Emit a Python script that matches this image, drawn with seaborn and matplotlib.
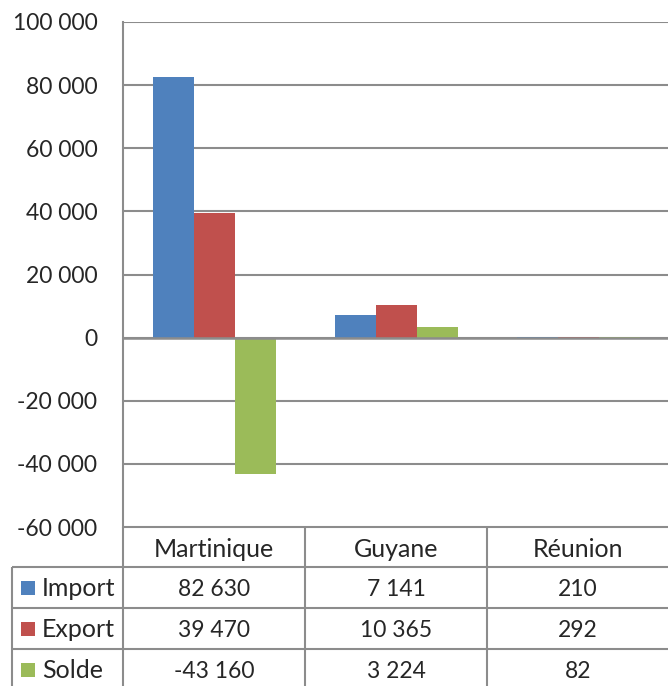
import pandas as pd
import matplotlib.pyplot as plt
import seaborn as sns
from matplotlib.lines import Line2D

# Data
regions = ["Martinique", "Guyane", "Réunion"]
series = ["Import", "Export", "Solde"]
import_vals = [82630, 7141, 210]
export_vals = [39470, 10365, 292]
solde_vals = [-43160, 3224, 82]
yticks = [-60000, -40000, -20000, 0, 20000, 40000, 60000, 80000, 100000]

colors = ["#4F81BD", "#C0504D", "#9BBB59"]
grid_col = "#8C8C8C"


def fmt(v):
    return f"{v:,}".replace(",", " ")


rows = []
for s, vals in zip(series, [import_vals, export_vals, solde_vals]):
    for r, v in zip(regions, vals):
        rows.append({"Region": r, "Serie": s, "Valeur": v})
df = pd.DataFrame(rows)

sns.set_style("white")
plt.rcParams["font.family"] = ["Lato", "DejaVu Sans"]

W, H = 668, 686
fig = plt.figure(figsize=(W / 100, H / 100), dpi=100)

# plot area in pixel terms
x0, x1, y0, y1 = 123, 670, 22, 527
ax = fig.add_axes([x0 / W, 1 - y1 / H, (x1 - x0) / W, (y1 - y0) / H])

sns.barplot(data=df, x="Region", y="Valeur", hue="Serie", palette=colors,
            width=0.676, gap=0, linewidth=0, saturation=1, ax=ax, legend=False)

ax.set_ylim(-60000, 100000)
ax.set_xlim(-0.5, 2.5)
ax.set_yticks(yticks)
ax.set_yticklabels([fmt(t) for t in yticks], fontsize=16.5)
ax.tick_params(axis="y", length=0, pad=18.5)
ax.set_xticks([])
ax.set_xlabel("")
ax.set_ylabel("")
for t in yticks:
    ax.axhline(t, color=grid_col, lw=1.5, zorder=0)
ax.axhline(0, color=grid_col, lw=1.8, zorder=3)
for name, sp in ax.spines.items():
    sp.set_visible(name == "left")
ax.spines["left"].set_color(grid_col)
ax.spines["left"].set_linewidth(1.5)

# Data table under the chart (pixel coordinates)
tab = fig.add_axes([0, 0, 1, 1 - y1 / H])
tab.set_xlim(0, W)
tab.set_ylim(H, y1)
tab.axis("off")

col_edges = [123, 305, 487, 669]
row_edges = [527, 567, 608.5, 649.5, 691]
lk = dict(color=grid_col, lw=1.5, solid_capstyle="butt")

tab.add_line(Line2D([123, 668], [527, 527], **lk))
for yy in row_edges[1:4]:
    tab.add_line(Line2D([12, 668], [yy, yy], **lk))
tab.add_line(Line2D([12, 12], [567, 690], **lk))
for xx in col_edges[:3]:
    tab.add_line(Line2D([xx, xx], [527, 690], **lk))

for i, r in enumerate(regions):
    cx = (col_edges[i] + col_edges[i + 1]) / 2
    tab.text(cx, 557, r, ha="center", va="baseline", fontsize=18)

for j, (s, vals) in enumerate(zip(series, [import_vals, export_vals, solde_vals])):
    cy = (row_edges[j + 1] + row_edges[j + 2]) / 2
    tab.add_patch(plt.Rectangle((21, cy - 7), 14, 14, color=colors[j], lw=0))
    tab.text(42, cy + 8, s, ha="left", va="baseline", fontsize=18)
    for i, v in enumerate(vals):
        cx = (col_edges[i] + col_edges[i + 1]) / 2
        tab.text(cx, cy + 8, fmt(v), ha="center", va="baseline", fontsize=16.5)

fig.savefig("out.png", dpi=100)
